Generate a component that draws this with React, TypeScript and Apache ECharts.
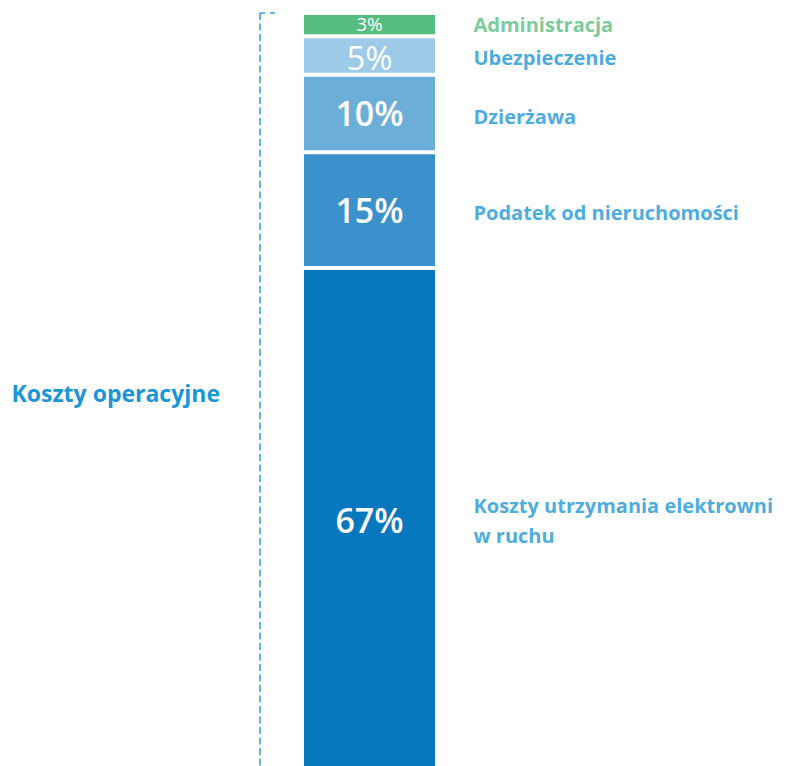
import React, { useEffect, useRef } from "react";
import * as echarts from "echarts";

const categories = ["Koszty operacyjne"];
const segmentNames = [
  "Koszty utrzymania elektrowni\nw ruchu",
  "Podatek od nieruchomości",
  "Dzierżawa",
  "Ubezpieczenie",
  "Administracja",
];
const segmentValues = [67, 15, 10, 5, 3];
const segmentColors = ["#0878BE", "#3A91CB", "#6BAED8", "#9DCAE6", "#55BD7F"];
const nameColors = ["#1A96D6", "#1A96D6", "#1A96D6", "#1A96D6", "#55BD7F"];
const pctFontSizes = [34, 34, 34, 33, 19];
const pctFontWeights = [600, 600, 600, 500, 500];
const pctOffsets = [-7, 0, 0, 2, -1];
const nameOffsets = [-7, 2, 3, 2, 0];
const axisTitle = "Koszty operacyjne";

const FONT = "'Open Sans', 'Noto Sans', sans-serif";

export default function App() {
  const ref = useRef<HTMLDivElement>(null);
  useEffect(() => {
    if (!ref.current) return;
    const chart = echarts.init(ref.current, undefined, { renderer: "svg" });

    const barSeries = segmentValues.map((v, i) => ({
      type: "bar",
      name: segmentNames[i],
      stack: "total",
      barWidth: 135,
      data: [v],
      itemStyle: { color: segmentColors[i], borderColor: "#ffffff", borderWidth: 2 },
      label: {
        show: true,
        position: "inside",
        formatter: "{c}%",
        color: "#ffffff",
        fontFamily: FONT,
        fontSize: pctFontSizes[i],
        lineHeight: pctFontSizes[i],
        fontWeight: pctFontWeights[i],
        offset: [0, pctOffsets[i]],
      },
    }));

    let cum = 0;
    const mids = segmentValues.map((v) => {
      const m = cum + v / 2;
      cum += v;
      return m;
    });

    const nameSeries = {
      type: "scatter",
      symbolSize: 0,
      silent: true,
      data: mids.map((m, i) => ({
        value: [0, m],
        label: {
          show: true,
          position: "right",
          distance: 104,
          formatter: segmentNames[i],
          color: nameColors[i],
          fontFamily: FONT,
          fontSize: 20,
          fontWeight: "bold",
          lineHeight: 30,
          align: "left",
          offset: [0, nameOffsets[i]],
        },
      })),
    };

    chart.setOption({
      animation: false,
      grid: { left: 302, right: 350, top: 13, bottom: 0 },
      graphic: [
        {
          type: "text",
          x: 220,
          y: 393,
          style: {
            text: axisTitle,
            align: "right",
            verticalAlign: "middle",
            fill: "#1A96D6",
            fontFamily: FONT,
            fontSize: 23,
            fontWeight: "bold",
          },
        },
      ],
      xAxis: {
        type: "category",
        data: categories,
        show: false,
      },
      yAxis: {
        type: "value",
        min: 0,
        max: 100,
        interval: 100,
        position: "left",
        offset: 42,
        axisLine: {
          show: true,
          lineStyle: { color: "#3A9BD9", width: 1.5, type: [6, 4.5] },
        },
        axisTick: {
          show: true,
          inside: true,
          length: 17,
          lineStyle: { color: "#3A9BD9", width: 1.5, type: [5, 5] },
        },
        axisLabel: { show: false },
        splitLine: { show: false },
      },
      series: [...barSeries, nameSeries],
    });
    return () => chart.dispose();
  }, []);
  return (
    <div
      style={{
        position: "absolute",
        left: 0,
        top: 0,
        width: 787,
        height: 766,
        overflow: "hidden",
      }}
    >
      <div ref={ref} style={{ width: 787, height: 786 }} />
    </div>
  );
}
